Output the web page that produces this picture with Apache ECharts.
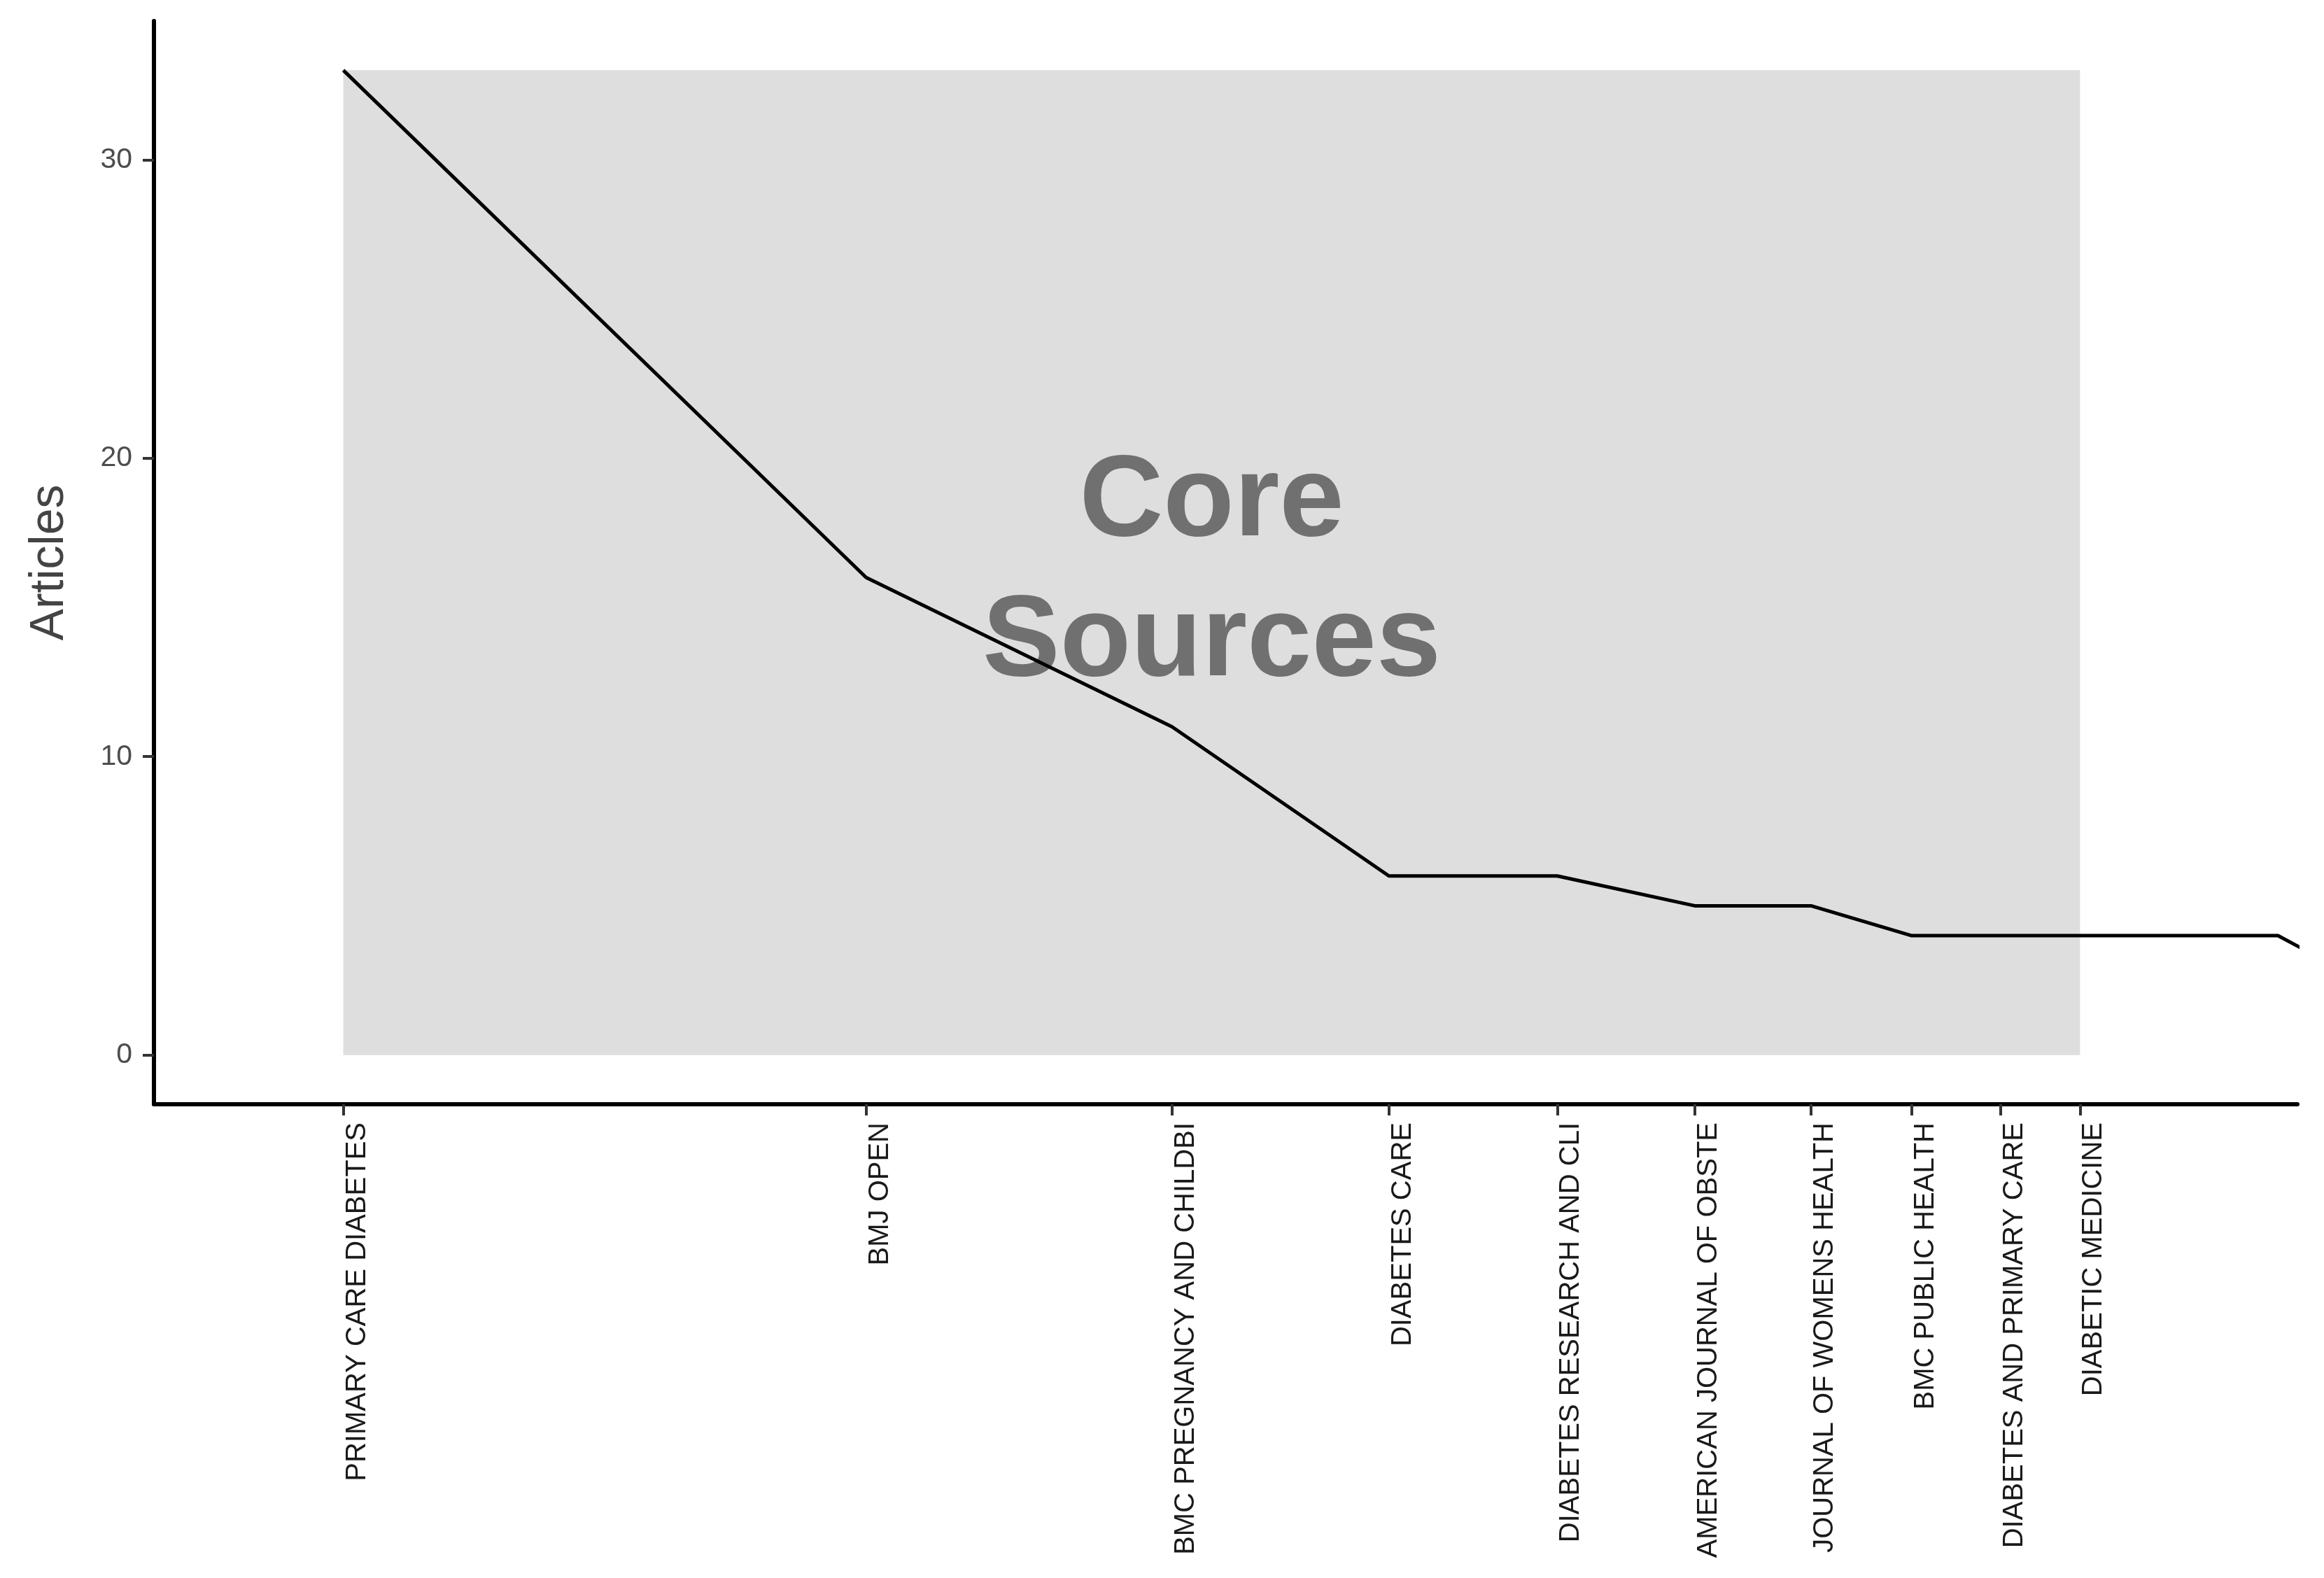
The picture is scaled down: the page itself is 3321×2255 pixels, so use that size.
<!DOCTYPE html>
<html>
<head>
<meta charset="utf-8">
<script src="https://cdn.jsdelivr.net/npm/echarts@6/dist/echarts.min.js"></script>
<style>
  html, body { margin: 0; padding: 0; background: #fff; }
  #Mycharts { width: 3321px; height: 2255px; }
</style>
</head>
<body>
<div id="Mycharts"></div>
<script>
// journals in rank order (x axis is log of the rank)
const journals = [
  'PRIMARY CARE DIABETES',
  'BMJ OPEN',
  'BMC PREGNANCY AND CHILDBI',
  'DIABETES CARE',
  'DIABETES RESEARCH AND CLI',
  'AMERICAN JOURNAL OF OBSTE',
  'JOURNAL OF WOMENS HEALTH',
  'BMC PUBLIC HEALTH',
  'DIABETES AND PRIMARY CARE',
  'DIABETIC MEDICINE'
]
const ranks = [1, 2, 3, 4, 5, 6, 7, 8, 9, 10, 11, 12, 13, 14]
const articles = [33, 16, 11, 6, 6, 5, 5, 4, 4, 4, 4, 4, 4, 3]
const yTicks = [0, 10, 20, 30]
const coreZone = { from: 1, to: 10, top: 33 }

let Mycharts = echarts.init(document.getElementById('Mycharts'))
Mycharts.setOption({
  animation: false,
  backgroundColor: '#ffffff',
  grid: {
    left: 220,
    right: 38,
    top: 30,
    bottom: 677
  },
  xAxis: {
    type: 'log',
    logBase: 10,
    min: 0.778,
    max: 13.34,
    axisLine: { onZero: false, lineStyle: { color: '#000', width: 6 } },
    axisTick: {
      show: true,
      length: 16,
      customValues: ranks.slice(0, journals.length),
      lineStyle: { color: '#333', width: 4 }
    },
    axisLabel: {
      customValues: ranks.slice(0, journals.length),
      rotate: 90,
      margin: 26,
      fontSize: 40,
      fontFamily: 'Liberation Sans, Arial, sans-serif',
      color: '#1a1a1a',
      verticalAlign: 'top',
      formatter: function (v) {
        return journals[Math.round(v) - 1] || ''
      }
    },
    splitLine: { show: false },
    minorTick: { show: false }
  },
  yAxis: {
    type: 'value',
    min: -1.65,
    max: 34.65,
    name: 'Articles',
    nameLocation: 'middle',
    nameGap: 115,
    nameTextStyle: {
      fontSize: 68,
      fontFamily: 'Liberation Sans, Arial, sans-serif',
      color: '#444'
    },
    axisLine: { show: true, lineStyle: { color: '#000', width: 6 } },
    axisTick: {
      show: true,
      length: 16,
      customValues: yTicks,
      lineStyle: { color: '#333', width: 4 }
    },
    axisLabel: {
      customValues: yTicks,
      margin: 31,
      fontSize: 41,
      fontFamily: 'Liberation Sans, Arial, sans-serif',
      color: '#4d4d4d'
    },
    splitLine: { show: false }
  },
  series: [
    {
      type: 'line',
      z: 3,
      data: ranks.map((r, i) => [r, articles[i]]),
      showSymbol: false,
      clip: true,
      lineStyle: { color: '#000', width: 5 },
      markArea: {
        silent: true,
        z: 1,
        itemStyle: { color: '#dedede' },
        data: [[
          { coord: [coreZone.from, 0] },
          { coord: [coreZone.to, coreZone.top] }
        ]]
      },
      markPoint: {
        silent: true,
        z: 2,
        symbol: 'rect',
        symbolSize: 1,
        itemStyle: { color: 'rgba(0,0,0,0)' },
        label: {
          show: true,
          position: 'inside',
          offset: [0, 15],
          formatter: 'Core\nSources',
          fontSize: 166,
          fontWeight: 'bold',
          fontFamily: 'Liberation Sans, Arial, sans-serif',
          color: '#707070',
          lineHeight: 200,
          align: 'center',
          verticalAlign: 'middle'
        },
        data: [{ coord: [Math.sqrt(10), coreZone.top / 2] }]
      }
    }
  ]
})
</script>
</body>
</html>
